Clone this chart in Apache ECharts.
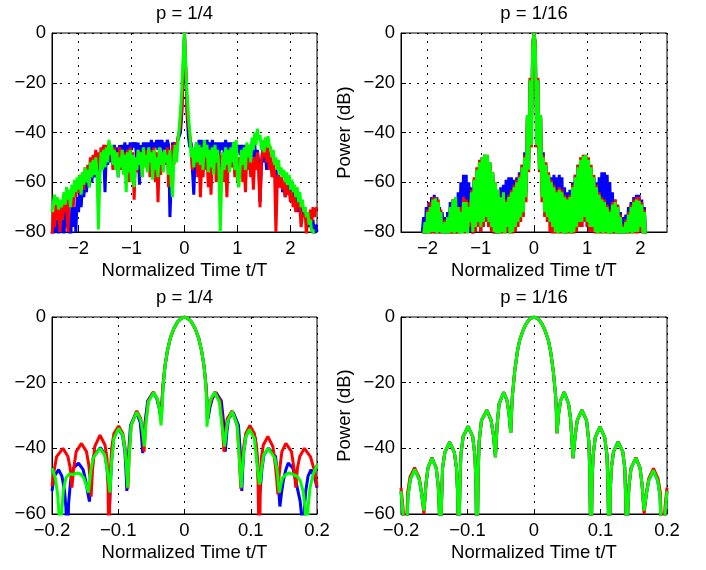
<!DOCTYPE html>
<html>
<head>
<meta charset="utf-8">
<script src="https://cdn.jsdelivr.net/npm/echarts@6.0.0/dist/echarts.min.js"></script>
<style>
  html, body { margin: 0; background: #fff; }
  #chart { width: 706px; height: 570px; }
</style>
</head>
<body>
<div id="chart"></div>
<script>
// sample positions of the two upper panels (t/T), 8 per row
const topX = [
  -2.5, -2.475, -2.45, -2.425, -2.4, -2.375, -2.35, -2.325,
  -2.3, -2.275, -2.25, -2.225, -2.2, -2.175, -2.15, -2.125,
  -2.1, -2.075, -2.05, -2.025, -2, -1.975, -1.95, -1.925,
  -1.9, -1.875, -1.85, -1.825, -1.8, -1.775, -1.75, -1.725,
  -1.7, -1.675, -1.65, -1.625, -1.6, -1.575, -1.55, -1.525,
  -1.5, -1.475, -1.45, -1.425, -1.4, -1.375, -1.35, -1.325,
  -1.3, -1.275, -1.25, -1.225, -1.2, -1.175, -1.15, -1.125,
  -1.1, -1.075, -1.05, -1.025, -1, -0.975, -0.95, -0.925,
  -0.9, -0.875, -0.85, -0.825, -0.8, -0.775, -0.75, -0.725,
  -0.7, -0.675, -0.65, -0.625, -0.6, -0.575, -0.55, -0.525,
  -0.5, -0.475, -0.45, -0.425, -0.4, -0.375, -0.35, -0.325,
  -0.3, -0.275, -0.25, -0.225, -0.2, -0.175, -0.15, -0.125,
  -0.1, -0.075, -0.05, -0.025, 0, 0.025, 0.05, 0.075,
  0.1, 0.125, 0.15, 0.175, 0.2, 0.225, 0.25, 0.275,
  0.3, 0.325, 0.35, 0.375, 0.4, 0.425, 0.45, 0.475,
  0.5, 0.525, 0.55, 0.575, 0.6, 0.625, 0.65, 0.675,
  0.7, 0.725, 0.75, 0.775, 0.8, 0.825, 0.85, 0.875,
  0.9, 0.925, 0.95, 0.975, 1, 1.025, 1.05, 1.075,
  1.1, 1.125, 1.15, 1.175, 1.2, 1.225, 1.25, 1.275,
  1.3, 1.325, 1.35, 1.375, 1.4, 1.425, 1.45, 1.475,
  1.5, 1.525, 1.55, 1.575, 1.6, 1.625, 1.65, 1.675,
  1.7, 1.725, 1.75, 1.775, 1.8, 1.825, 1.85, 1.875,
  1.9, 1.925, 1.95, 1.975, 2, 2.025, 2.05, 2.075,
  2.1, 2.125, 2.15, 2.175, 2.2, 2.225, 2.25, 2.275,
  2.3, 2.325, 2.35, 2.375, 2.4, 2.425, 2.45, 2.475,
  2.5
];

// upper left, p = 1/4 (dB)
const p4Blue = [
  -80, -84, -76, -80, -75, -82, -74, -80,
  -75, -82, -72, -78, -71, -80, -85, -70,
  -78, -70, -80, -66, -72, -64, -70, -61,
  -66, -60, -64, -57, -62, -56, -60, -54,
  -58, -53, -57, -51, -56, -50, -54, -49,
  -64, -48, -53, -47, -52, -46, -50, -45,
  -51, -46, -58, -45, -50, -45, -49, -44,
  -50, -45, -48, -44, -47, -44, -46, -44,
  -52, -44, -61, -45, -48, -44, -47, -44,
  -49, -44, -47, -43, -48, -44, -46, -43,
  -47, -43, -46, -43, -48, -44, -47, -43,
  -45, -74, -60, -44, -46, -44, -48, -43,
  -43, -40, -32, -16, 0, -16, -33, -42,
  -46, -44, -55, -65, -50, -44, -47, -43,
  -48, -43, -47, -44, -49, -43, -47, -44,
  -48, -43, -47, -44, -48, -44, -49, -44,
  -47, -44, -48, -43, -47, -44, -48, -44,
  -48, -44, -50, -45, -48, -45, -49, -45,
  -50, -45, -48, -46, -51, -45, -49, -44,
  -50, -44, -55, -47, -52, -68, -54, -48,
  -52, -48, -55, -50, -54, -52, -56, -54,
  -58, -55, -60, -57, -62, -58, -64, -60,
  -66, -62, -64, -61, -66, -60, -67, -63,
  -70, -66, -72, -68, -72, -70, -74, -71,
  -76, -72, -78, -74, -80, -75, -82, -77,
  -80
];
const p4Red = [
  -82, -72, -78, -69, -75, -70, -80, -68,
  -75, -67, -72, -66, -80, -64, -70, -63,
  -70, -61, -66, -60, -64, -57, -62, -56,
  -63, -54, -60, -53, -58, -50, -57, -49,
  -55, -47, -53, -48, -54, -46, -52, -45,
  -52, -45, -50, -44, -49, -47, -55, -46,
  -55, -48, -53, -46, -55, -47, -52, -48,
  -55, -47, -60, -46, -54, -48, -67, -50,
  -56, -47, -52, -48, -58, -46, -53, -47,
  -55, -48, -58, -47, -52, -46, -60, -48,
  -68, -50, -57, -48, -55, -47, -53, -46,
  -62, -48, -55, -45, -53, -44, -48, -42,
  -40, -37, -30, -15, 0, -15, -32, -37,
  -41, -46, -55, -48, -52, -47, -58, -50,
  -66, -52, -58, -48, -55, -50, -62, -48,
  -65, -50, -56, -48, -60, -52, -57, -49,
  -58, -48, -60, -52, -66, -50, -55, -47,
  -54, -49, -58, -48, -60, -50, -57, -48,
  -60, -52, -64, -49, -55, -47, -58, -50,
  -63, -50, -55, -48, -56, -70, -52, -47,
  -50, -45, -52, -46, -55, -48, -58, -52,
  -56, -80, -60, -57, -62, -58, -63, -59,
  -66, -61, -65, -63, -68, -64, -70, -66,
  -72, -68, -70, -69, -78, -73, -74, -70,
  -82, -72, -75, -71, -76, -70, -74, -71,
  -70
];
const p4Green = [
  -72, -68, -65, -69, -66, -71, -67, -70,
  -68, -64, -69, -62, -67, -63, -70, -61,
  -66, -59, -64, -58, -63, -57, -65, -56,
  -61, -54, -60, -55, -62, -52, -58, -51,
  -57, -50, -56, -79, -60, -48, -55, -47,
  -54, -46, -52, -43, -49, -45, -53, -47,
  -55, -48, -58, -50, -54, -47, -57, -49,
  -64, -48, -56, -47, -60, -49, -62, -50,
  -55, -47, -53, -48, -58, -46, -54, -49,
  -56, -46, -52, -48, -59, -47, -55, -50,
  -58, -46, -53, -48, -56, -47, -52, -49,
  -57, -47, -60, -66, -50, -45, -52, -44,
  -38, -31, -22, -10, 0, -14, -25, -33,
  -40, -50, -46, -54, -49, -44, -52, -45,
  -53, -46, -55, -43, -50, -45, -56, -47,
  -54, -46, -57, -45, -52, -47, -55, -80,
  -60, -48, -55, -46, -53, -47, -56, -46,
  -52, -44, -55, -43, -58, -62, -54, -47,
  -53, -46, -55, -44, -50, -45, -52, -42,
  -47, -40, -45, -38.5, -43, -41, -47, -43,
  -48, -42, -46, -41.5, -45, -46, -50, -47,
  -53, -50, -55, -51, -57, -54, -58, -55,
  -60, -56, -61, -57, -63, -59, -64, -61,
  -66, -62, -68, -64, -70, -67, -72, -70,
  -74, -72, -77, -75, -80, -79, -83, -82,
  -86
];

// upper right, p = 1/16 (dB), null = no sample
const p16Blue = [
  null, null, null, null, null, null, null, null,
  null, null, null, null, null, null, null, null,
  -80, -74, -84, -70, -80, -68, -82, -66,
  -80, -65, -82, -66, -84, -70, -86, -72,
  -84, -74, -86, -72, -84, -68, -82, -67,
  -84, -66, -82, -64, -80, -60, -78, -57,
  -76, -57, -78, -60, -80, -62, -82, -59,
  -80, -55, -78, -52, -80, -50, -78, -49,
  -76, -50, -78, -53, -80, -57, -82, -61,
  -84, -64, -82, -62, -80, -61, -78, -59,
  -76, -58, -74, -58, -76, -59, -74, -58,
  -72, -56, -70, -53, -68, -48, -64, -34,
  -52, -19, -42, -5, 0, -5, -42, -19,
  -52, -34, -64, -48, -68, -53, -72, -57,
  -74, -58, -76, -57, -74, -58, -76, -57,
  -78, -58, -80, -62, -82, -64, -80, -63,
  -82, -60, -80, -57, -78, -53, -76, -51,
  -78, -50, -76, -50, -78, -52, -80, -55,
  -80, -58, -78, -60, -76, -58, -74, -56,
  -72, -56, -74, -57, -78, -60, -82, -64,
  -84, -67, -82, -70, -84, -72, -86, -74,
  -84, -73, -82, -70, -80, -68, -78, -66,
  -78, -65, -80, -65, -78, -67, -80, -70,
  -85, -92, null, null, null, null, null, null,
  null, null, null, null, null, null, null, null,
  null
];
const p16Red = [
  null, null, null, null, null, null, null, null,
  null, null, null, null, null, null, null, null,
  -88, -80, -78, -82, -71, -84, -68, -82,
  -66, -84, -66, -80, -67, -82, -71, -86,
  -82, -75, -86, -74, -84, -71, -82, -67,
  -84, -67, -82, -70, -86, -70, -80, -66,
  -82, -67, -80, -68, -78, -63, -82, -58,
  -80, -54, -78, -51, -80, -50, -78, -49,
  -76, -49, -78, -52, -80, -56, -82, -60,
  -86, -63, -84, -66, -82, -64, -86, -67,
  -80, -65, -84, -63, -82, -61, -80, -59,
  -78, -57, -76, -53, -74, -49, -68, -33,
  -56, -18, -46, -4, 0, -4, -46, -18,
  -56, -33, -68, -49, -74, -52, -76, -56,
  -80, -59, -82, -61, -84, -63, -86, -62,
  -84, -63, -86, -65, -88, -66, -84, -65,
  -84, -61, -82, -57, -80, -53, -78, -50,
  -78, -49, -76, -49, -78, -50, -80, -53,
  -80, -57, -82, -61, -84, -64, -82, -66,
  -84, -67, -82, -69, -86, -71, -84, -68,
  -88, -67, -84, -69, -86, -73, -88, -77,
  -86, -75, -84, -72, -82, -69, -84, -67,
  -82, -66, -82, -66, -80, -68, -84, -71,
  -86, -92, null, null, null, null, null, null,
  null, null, null, null, null, null, null, null,
  null
];
const p16Green = [
  null, null, null, null, null, null, null, null,
  null, null, null, null, null, null, null, null,
  -95, -82, -76, -84, -72, -82, -70, -80,
  -67, -80, -66.5, -82, -68, -80, -72, -84,
  -80, -76, -84, -74, -82, -70, -80, -67,
  -82, -66, -80, -70, -84, -72, -82, -68,
  -80, -68, -82, -70, -76, -64, -80, -59,
  -78, -55, -76, -52, -78, -50, -76, -49,
  -74, -49, -76, -52, -78, -56, -80, -60,
  -82, -63, -84, -66, -80, -64, -82, -68,
  -78, -66, -82, -64, -80, -62, -78, -60,
  -76, -58, -74, -54, -72, -50, -66, -33,
  -55, -19, -45, -5, 0, -5, -45, -19,
  -55, -33, -66, -50, -72, -53, -74, -57,
  -76, -60, -78, -62, -80, -64, -82, -63,
  -80, -64, -82, -66, -84, -67, -80, -66,
  -82, -62, -80, -58, -78, -54, -76, -51,
  -76, -49.5, -74, -49, -76, -51, -78, -54,
  -78, -58, -80, -62, -82, -65, -80, -67,
  -82, -68, -80, -70, -84, -72, -82, -69,
  -80, -68, -82, -70, -84, -74, -86, -78,
  -84, -76, -82, -73, -80, -70, -82, -68,
  -80, -67, -80, -67.5, -78, -69, -82, -72,
  -84, -95, null, null, null, null, null, null,
  null, null, null, null, null, null, null, null,
  null
];

// lower left, p = 1/4, [t/T, dB]
const z4Blue = [
  [-0.2, -53], [-0.1965, -48.5], [-0.19, -46.5], [-0.185, -48.5], [-0.181, -53], [-0.179, -58], [-0.177, -75],
  [-0.175, -57], [-0.172, -50], [-0.1675, -46], [-0.16, -44.5], [-0.153, -46.5], [-0.149, -50], [-0.146, -53.5], [-0.1435, -56.2],
  [-0.141, -49], [-0.1375, -42.5], [-0.127, -39.8], [-0.12, -42], [-0.117, -46], [-0.115, -51], [-0.113, -57],
  [-0.1105, -45], [-0.107, -37], [-0.1, -34], [-0.0935, -36], [-0.09, -41], [-0.0885, -46], [-0.087, -53],
  [-0.0845, -42], [-0.0815, -33], [-0.0725, -29], [-0.067, -32], [-0.065, -36], [-0.063, -41.5],
  [-0.0595, -32], [-0.0555, -25.5], [-0.0475, -23], [-0.042, -24.8], [-0.0385, -27.5], [-0.0355, -31],
  [-0.034, -26], [-0.0325, -21], [-0.0295, -15], [-0.026, -10.5], [-0.0215, -6.5], [-0.016, -3.5], [-0.0105, -1.5], [-0.005, -0.4], [0, 0],
  [0.005, -0.4], [0.0105, -1.5], [0.016, -3.5], [0.0215, -6.5], [0.026, -10.5], [0.0295, -15], [0.0325, -21], [0.034, -26], [0.0355, -31],
  [0.0385, -27.5], [0.042, -24.8], [0.0475, -23], [0.0555, -25.5], [0.059, -32], [0.0615, -41],
  [0.064, -35], [0.0665, -31], [0.0735, -29], [0.0815, -33], [0.0845, -42], [0.0865, -53],
  [0.088, -46], [0.0895, -41], [0.093, -36], [0.0995, -34], [0.107, -37], [0.1105, -45], [0.113, -55],
  [0.115, -51], [0.117, -46], [0.12, -42], [0.1265, -40], [0.1375, -42.5], [0.141, -49], [0.144, -57.7],
  [0.1465, -53.5], [0.149, -50], [0.153, -46.5], [0.1565, -44.5], [0.1635, -46], [0.168, -50], [0.1745, -56], [0.1775, -62], [0.179, -75],
  [0.181, -58], [0.183, -53], [0.1865, -48.5], [0.191, -46.5], [0.196, -48.5], [0.2, -52]
];
const z4Red = [
  [-0.2, -51.6], [-0.197, -47], [-0.193, -42.5], [-0.1835, -40], [-0.176, -42.5], [-0.1725, -46], [-0.17, -52],
  [-0.1675, -46.5], [-0.1635, -41], [-0.1555, -38.5], [-0.148, -41], [-0.1445, -45], [-0.1425, -49], [-0.141, -54.7],
  [-0.139, -47], [-0.1355, -39.5], [-0.1275, -36], [-0.12, -39], [-0.117, -43], [-0.1155, -50], [-0.114, -75],
  [-0.1125, -50], [-0.11, -40], [-0.1065, -35.5], [-0.0995, -33.2], [-0.093, -35.5], [-0.0895, -40], [-0.0875, -45.5], [-0.0855, -52.3],
  [-0.0835, -42], [-0.0805, -33], [-0.072, -28.6], [-0.066, -31], [-0.0635, -35], [-0.061, -41],
  [-0.0585, -32], [-0.0545, -25.5], [-0.047, -22.8], [-0.0415, -24.8], [-0.038, -27.5], [-0.0353, -31],
  [-0.034, -26], [-0.0325, -21], [-0.0295, -15], [-0.026, -10.5], [-0.0215, -6.5], [-0.016, -3.5], [-0.0105, -1.5], [-0.005, -0.4], [0, 0],
  [0.005, -0.4], [0.0105, -1.5], [0.016, -3.5], [0.0215, -6.5], [0.026, -10.5], [0.0295, -15], [0.0325, -21], [0.034, -26], [0.0344, -31],
  [0.0375, -27.5], [0.041, -24.8], [0.046, -22.8], [0.0535, -25.5], [0.0565, -31], [0.0595, -41],
  [0.062, -35], [0.0645, -31], [0.072, -28.6], [0.0795, -33], [0.0825, -42], [0.085, -52.3],
  [0.087, -45.5], [0.089, -40], [0.0925, -35.5], [0.0987, -33], [0.1055, -35.5], [0.109, -40], [0.111, -50], [0.113, -75],
  [0.1145, -50], [0.116, -43], [0.119, -39], [0.1258, -36.4], [0.1335, -39.5], [0.137, -45], [0.139, -49], [0.141, -54],
  [0.1425, -49], [0.1445, -45], [0.147, -41], [0.153, -38.5], [0.1615, -41], [0.1655, -46.5], [0.168, -52],
  [0.1705, -46], [0.174, -42.5], [0.181, -40], [0.19, -42.5], [0.1965, -47], [0.2, -51.6]
];
const z4Green = [
  [-0.2, -46], [-0.195, -49], [-0.1915, -54], [-0.1895, -60], [-0.1875, -75], [-0.1855, -60], [-0.183, -53], [-0.179, -49],
  [-0.174, -47.8], [-0.168, -48], [-0.162, -47.5], [-0.157, -47.8], [-0.152, -49], [-0.1485, -51], [-0.145, -53.5],
  [-0.1415, -47], [-0.138, -43], [-0.1275, -40], [-0.1205, -42], [-0.117, -46], [-0.1145, -50], [-0.1125, -53.5],
  [-0.11, -44], [-0.1065, -37], [-0.0995, -33.9], [-0.093, -36], [-0.0895, -41], [-0.0875, -46], [-0.0858, -52],
  [-0.0835, -42], [-0.0805, -33], [-0.072, -29], [-0.066, -31.5], [-0.063, -35], [-0.0605, -39.5],
  [-0.058, -32], [-0.0545, -25.8], [-0.0465, -23], [-0.041, -25], [-0.0378, -28], [-0.0354, -33],
  [-0.0335, -27], [-0.0322, -21], [-0.0295, -15], [-0.026, -10.5], [-0.0215, -6.5], [-0.016, -3.5], [-0.0105, -1.5], [-0.005, -0.4], [0, 0],
  [0.005, -0.4], [0.0105, -1.5], [0.016, -3.5], [0.0215, -6.5], [0.026, -10.5], [0.0295, -15], [0.0322, -21], [0.0335, -27], [0.0339, -33.4],
  [0.0365, -28], [0.0395, -25], [0.0455, -23], [0.0525, -25.8], [0.056, -32], [0.0605, -39.5],
  [0.063, -35], [0.0655, -31.5], [0.072, -28.8], [0.0795, -33], [0.0825, -42], [0.0856, -52],
  [0.0875, -46], [0.0895, -41], [0.0925, -36.5], [0.098, -34.2], [0.1055, -37], [0.109, -44], [0.113, -51],
  [0.1145, -50], [0.1165, -46], [0.1195, -42], [0.126, -40], [0.1365, -43], [0.14, -47], [0.143, -53.5],
  [0.1455, -51], [0.148, -49], [0.153, -48], [0.158, -47.5], [0.164, -48], [0.17, -48.5], [0.175, -50], [0.179, -53], [0.182, -58], [0.1845, -75],
  [0.1865, -58], [0.1895, -52], [0.194, -48], [0.2, -45]
];

// lower right, p = 1/16, [t/T, dB]
const z16Green = [
  [-0.2, -53], [-0.197, -60], [-0.193, -75],
  [-0.1895, -54.5], [-0.186, -49.5], [-0.1794, -46.4], [-0.1725, -49.5], [-0.169, -54], [-0.1654, -59],
  [-0.1625, -51], [-0.1595, -46], [-0.1534, -43], [-0.147, -46], [-0.144, -51.5], [-0.1425, -58], [-0.1408, -75],
  [-0.139, -56], [-0.1375, -46], [-0.134, -41.2], [-0.1268, -38.1], [-0.1198, -41.2], [-0.1166, -46], [-0.115, -53], [-0.1132, -75],
  [-0.1115, -52], [-0.11, -42], [-0.1065, -36.4], [-0.0992, -33.3], [-0.0922, -36.4], [-0.089, -42], [-0.0873, -50], [-0.0857, -75],
  [-0.084, -48], [-0.0825, -38], [-0.079, -31.5], [-0.0707, -28.4], [-0.0645, -31.5], [-0.061, -36], [-0.058, -42.7],
  [-0.0555, -33], [-0.0525, -26.5], [-0.0456, -22.9], [-0.0405, -25.5], [-0.0375, -29.5], [-0.035, -35.3],
  [-0.0335, -28], [-0.0325, -24], [-0.029, -16.5], [-0.025, -10.5], [-0.0215, -7], [-0.016, -3.8], [-0.0114, -1.9], [-0.006, -0.5], [0, 0],
  [0.006, -0.5], [0.0114, -1.9], [0.016, -3.8], [0.0215, -7], [0.025, -10.5], [0.029, -16.5], [0.0325, -24], [0.0335, -28], [0.0346, -35.4],
  [0.037, -29.5], [0.04, -25.5], [0.0456, -22.9], [0.052, -26.5], [0.055, -31], [0.0587, -43],
  [0.062, -36], [0.065, -31.5], [0.072, -28.4], [0.079, -31.5], [0.0825, -38], [0.084, -48], [0.0857, -75],
  [0.0873, -50], [0.089, -42], [0.0922, -36.6], [0.0992, -33.5], [0.1062, -36.6], [0.1097, -42], [0.1113, -52], [0.113, -75],
  [0.1147, -53], [0.1163, -46], [0.1195, -41.1], [0.1265, -38], [0.1335, -41.1], [0.1365, -46], [0.138, -56], [0.1395, -75],
  [0.1412, -58], [0.1428, -51.5], [0.146, -46], [0.1534, -43], [0.1595, -46], [0.1625, -51], [0.1654, -59],
  [0.169, -54], [0.1725, -49.8], [0.1794, -46.7], [0.186, -49.8], [0.1895, -54.5], [0.193, -75],
  [0.197, -60], [0.2, -53]
];
const z16Red = [
  [-0.2, -52], [-0.197, -58], [-0.1935, -75],
  [-0.19, -53.5], [-0.1865, -48.8], [-0.1796, -45.9], [-0.1725, -49], [-0.169, -53.5], [-0.1656, -60],
  [-0.1625, -51], [-0.1595, -46], [-0.1534, -42.8], [-0.147, -46], [-0.144, -51.5], [-0.1425, -58], [-0.1408, -75],
  [-0.139, -56], [-0.1375, -46], [-0.134, -41.2], [-0.1268, -38.1], [-0.1198, -41.2], [-0.1166, -46], [-0.115, -53], [-0.1132, -75],
  [-0.1115, -52], [-0.11, -42], [-0.1065, -36.4], [-0.0992, -33.3], [-0.0922, -36.4], [-0.089, -42], [-0.0873, -50], [-0.0857, -75],
  [-0.084, -48], [-0.0825, -38], [-0.079, -31.5], [-0.0707, -28.4], [-0.0645, -31.5], [-0.061, -36], [-0.058, -42.7],
  [-0.0555, -33], [-0.0525, -26.5], [-0.0456, -22.9], [-0.0405, -25.5], [-0.0375, -29.5], [-0.035, -35.3],
  [-0.0335, -28], [-0.0325, -24], [-0.029, -16.5], [-0.025, -10.5], [-0.0215, -7], [-0.016, -3.8], [-0.0114, -1.9], [-0.006, -0.5], [0, 0],
  [0.006, -0.5], [0.0114, -1.9], [0.016, -3.8], [0.0215, -7], [0.025, -10.5], [0.029, -16.5], [0.0325, -24], [0.0335, -28], [0.0346, -35.4],
  [0.037, -29.5], [0.04, -25.5], [0.0456, -22.9], [0.052, -26.5], [0.055, -31], [0.0587, -43],
  [0.062, -36], [0.065, -31.5], [0.072, -28.4], [0.079, -31.5], [0.0825, -38], [0.084, -48], [0.0857, -75],
  [0.0873, -50], [0.089, -42], [0.0922, -36.6], [0.0992, -33.5], [0.1062, -36.6], [0.1097, -42], [0.1113, -52], [0.113, -75],
  [0.1147, -53], [0.1163, -46], [0.1195, -41.1], [0.1265, -38], [0.1335, -41.1], [0.1365, -46], [0.138, -56], [0.1395, -75],
  [0.1412, -58], [0.1428, -51.5], [0.146, -46], [0.1534, -42.8], [0.1595, -46], [0.1625, -51], [0.1656, -60],
  [0.169, -53.5], [0.1725, -49.2], [0.1796, -46.1], [0.1865, -49.2], [0.19, -53.5], [0.1935, -75],
  [0.197, -58], [0.2, -52]
];
const z16Blue = z16Green;

const FONT = '"Liberation Sans", Arial, Helvetica, sans-serif';
const TXT = { color: '#000', fontFamily: FONT, fontSize: 18.5 };
const BLUE = '#0000ff', RED = '#ff0000', GREEN = '#00ff00';

const minus = v => String(v).replace('-', '\u2212');
const toPairs = (xs, ys) => xs.map((x, i) => [x, ys[i]]).filter(p => p[1] !== null);

const gridLine = { show: true, lineStyle: { color: '#000', width: 1, type: [2, 6] } };
const frame = { show: true, onZero: false, lineStyle: { color: '#000', width: 1 } };
const ticks = { show: true, inside: true, length: 5, lineStyle: { color: '#000' } };

function xAxisFor (idx, min, max, extra) {
  return Object.assign({
    type: 'value',
    gridIndex: idx,
    min: min,
    max: max,
    name: 'Normalized Time t/T',
    nameLocation: 'middle',
    nameGap: 29,
    nameTextStyle: TXT,
    axisLine: frame,
    axisTick: ticks,
    axisLabel: Object.assign({ margin: 7, formatter: minus }, TXT),
    splitLine: gridLine
  }, extra)
}

function yAxisFor (idx, min, withName) {
  const ax = {
    type: 'value',
    gridIndex: idx,
    min: min,
    max: 0,
    interval: 20,
    axisLine: frame,
    axisTick: ticks,
    axisLabel: Object.assign({ margin: 6, formatter: minus }, TXT),
    splitLine: gridLine
  };
  if (withName) {
    ax.name = 'Power (dB)';
    ax.nameLocation = 'middle';
    ax.nameRotate = 90;
    ax.nameGap = 47;
    ax.nameTextStyle = TXT;
  }
  return ax
}

function line (idx, color, data) {
  return {
    type: 'line',
    xAxisIndex: idx,
    yAxisIndex: idx,
    data: data,
    symbol: 'none',
    clip: true,
    lineStyle: { color: color, width: 3 },
    itemStyle: { color: color }
  }
}

function title (text, cx, top) {
  return { text: text, left: cx, top: top, textAlign: 'center', padding: 0, textStyle: Object.assign({ fontWeight: 'normal' }, TXT) }
}

const gridBase = { show: true, borderColor: '#000', borderWidth: 1, backgroundColor: '#fff', containLabel: false, outerBoundsMode: 'none' };
const topXOpts = { splitNumber: 5, axisLabel: Object.assign({ margin: 7, formatter: minus, showMinLabel: false, showMaxLabel: false }, TXT) };

const chart = echarts.init(document.getElementById('chart'), null, { renderer: 'canvas' });
chart.setOption({
  animation: false,
  backgroundColor: '#fff',
  title: [
    title('p = 1/4', 184.5, 4),
    title('p = 1/16', 534, 4),
    title('p = 1/4', 184.5, 288),
    title('p = 1/16', 534, 288)
  ],
  grid: [
    Object.assign({ left: 52, top: 33, width: 265, height: 199 }, gridBase),
    Object.assign({ left: 401, top: 33, width: 266, height: 199 }, gridBase),
    Object.assign({ left: 52, top: 317, width: 265, height: 197 }, gridBase),
    Object.assign({ left: 401, top: 317, width: 266, height: 197 }, gridBase)
  ],
  xAxis: [
    xAxisFor(0, -2.5, 2.5, topXOpts),
    xAxisFor(1, -2.5, 2.5, topXOpts),
    xAxisFor(2, -0.2, 0.2, { interval: 0.1 }),
    xAxisFor(3, -0.2, 0.2, { interval: 0.1 })
  ],
  yAxis: [
    yAxisFor(0, -80, false),
    yAxisFor(1, -80, true),
    yAxisFor(2, -60, false),
    yAxisFor(3, -60, true)
  ],
  series: [
    line(0, BLUE, toPairs(topX, p4Blue)),
    line(0, RED, toPairs(topX, p4Red)),
    line(0, GREEN, toPairs(topX, p4Green)),
    line(1, BLUE, toPairs(topX, p16Blue)),
    line(1, RED, toPairs(topX, p16Red)),
    line(1, GREEN, toPairs(topX, p16Green)),
    line(2, BLUE, z4Blue),
    line(2, RED, z4Red),
    line(2, GREEN, z4Green),
    line(3, BLUE, z16Blue),
    line(3, RED, z16Red),
    line(3, GREEN, z16Green)
  ]
});
</script>
</body>
</html>
